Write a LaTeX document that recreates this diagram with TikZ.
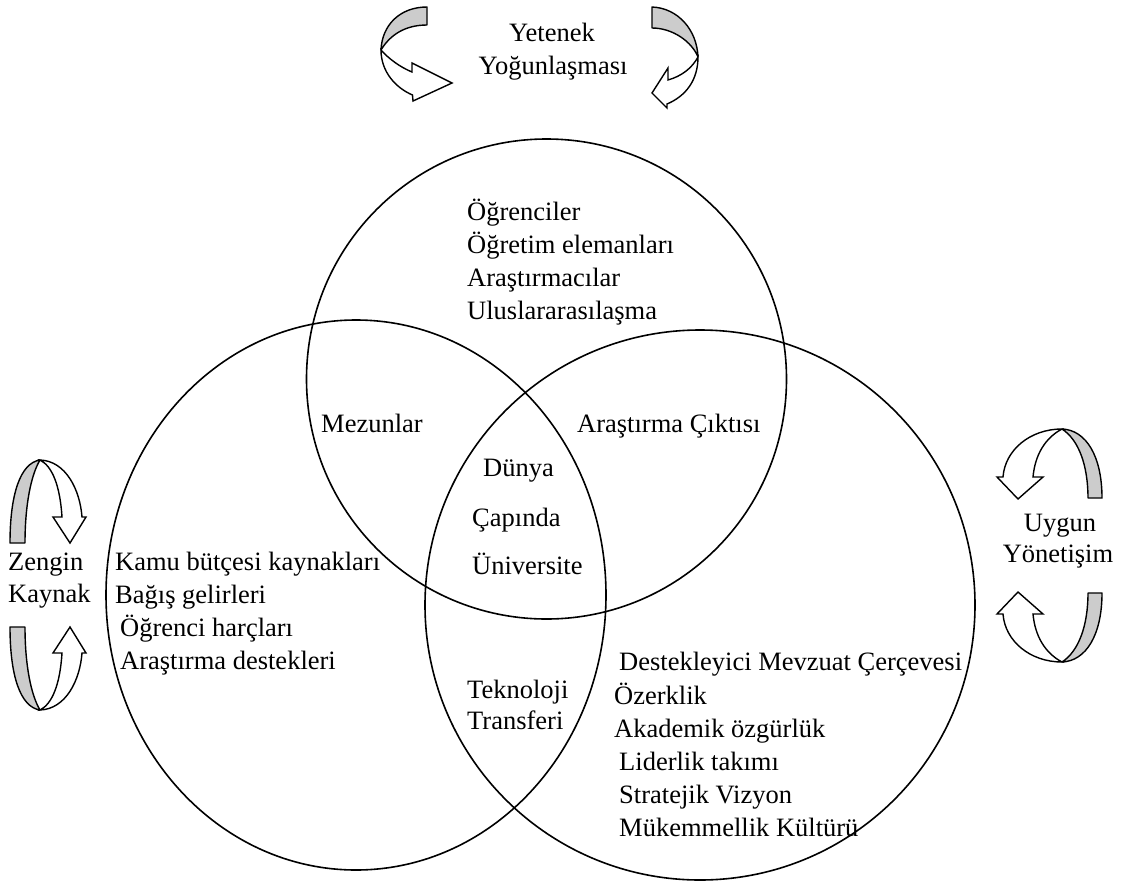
\documentclass[tikz,border=0pt]{standalone}
\usepackage{fontspec}
\setmainfont{Liberation Serif}
\definecolor{arrgrey}{RGB}{204,204,204}
\begin{document}
\begin{tikzpicture}[x=1pt,y=-1pt,
  circ/.style={draw=black, line width=1.6pt},
  lbl/.style={anchor=base west, inner sep=0pt, font=\fontsize{26.5}{33}\selectfont},
  clbl/.style={anchor=base, inner sep=0pt, font=\fontsize{26.5}{33}\selectfont},
  arrback/.style={draw=black, fill=arrgrey, line width=1.4pt, line join=round},
  arrfront/.style={draw=black, fill=white, line width=1.4pt, line join=miter}]
\useasboundingbox (0,0) rectangle (1133,884);

% Venn shapes
\draw[circ] (546.5,379) ellipse [x radius=240pt, y radius=240pt];
\draw[circ] (356,595) ellipse [x radius=250pt, y radius=275pt];
\draw[circ] (700,605) ellipse [x radius=275pt, y radius=275pt];

% top-left curved arrow
\draw[arrback] (427,7) .. controls (400,7) and (382,25) .. (381,50) .. controls (390,35) and (405,25) .. (427,25) -- cycle;
\draw[arrfront] (381,50) .. controls (381,72) and (396,88) .. (412.5,95) -- (413,101) -- (452,83) -- (412,63) -- (412,72) .. controls (400,67) and (389,59) .. (381,50) -- cycle;

% top-right curved arrow
\draw[arrback] (652,7) .. controls (678,8) and (697,30) .. (698,57) .. controls (692,42) and (673,28) .. (652,28) -- cycle;
\draw[arrfront] (698,57) .. controls (698,80) and (686,96) .. (667,104) -- (667,108) -- (652,93) -- (668,68) -- (668,80) .. controls (682,76) and (692,68) .. (698,57) -- cycle;

% left upper curved arrow
\draw[arrback] (10,543) .. controls (10,495) and (20,463) .. (40,460) .. controls (31,475) and (25,505) .. (25,543) -- cycle;
\draw[arrfront] (40,460) .. controls (66,461) and (80,490) .. (82,517) -- (86,517) -- (70,543) -- (53,517) -- (62,517) .. controls (60,485) and (52,466) .. (40,460) -- cycle;

% left lower curved arrow
\begin{scope}[shift={(0,1170)}, yscale=-1]
\draw[arrback] (10,543) .. controls (10,495) and (20,463) .. (40,460) .. controls (31,475) and (25,505) .. (25,543) -- cycle;
\draw[arrfront] (40,460) .. controls (66,461) and (80,490) .. (82,517) -- (86,517) -- (70,543) -- (53,517) -- (62,517) .. controls (60,485) and (52,466) .. (40,460) -- cycle;
\end{scope}

% right upper curved arrow
\draw[arrback] (1062,429) .. controls (1086,430) and (1102,456) .. (1102,498) -- (1088,498) .. controls (1088,466) and (1079,440) .. (1062,429) -- cycle;
\draw[arrfront] (1062,429) .. controls (1030,429) and (1005,450) .. (1003,477) -- (997,477) -- (1018,499) -- (1043,477) -- (1033,477) .. controls (1035,455) and (1045,438) .. (1062,429) -- cycle;

% right lower curved arrow
\begin{scope}[shift={(0,1091)}, yscale=-1]
\draw[arrback] (1062,429) .. controls (1086,430) and (1102,456) .. (1102,498) -- (1088,498) .. controls (1088,466) and (1079,440) .. (1062,429) -- cycle;
\draw[arrfront] (1062,429) .. controls (1030,429) and (1005,450) .. (1003,477) -- (997,477) -- (1018,499) -- (1043,477) -- (1033,477) .. controls (1035,455) and (1045,438) .. (1062,429) -- cycle;
\end{scope}

% labels
\node[clbl] (yet1) at (552,41) {Yetenek};
\node[clbl] (yet2) at (553,74) {Yoğunlaşması};

\node[lbl] (t1) at (467,220) {Öğrenciler};
\node[lbl] (t2) at (467,253) {Öğretim elemanları};
\node[lbl] (t3) at (467,286) {Araştırmacılar};
\node[lbl] (t4) at (467,319) {Uluslararasılaşma};

\node[lbl] (mez) at (321,432) {Mezunlar};
\node[lbl] (arc) at (577,432) {Araştırma Çıktısı};

\node[lbl] (d1) at (483,476) {Dünya};
\node[lbl] (d2) at (472,526) {Çapında};
\node[lbl] (d3) at (472,574) {Üniversite};

\node[lbl] (z1) at (8,570) {Zengin};
\node[lbl] (z2) at (8,602) {Kaynak};

\node[lbl] (l1) at (115,570) {Kamu bütçesi kaynakları};
\node[lbl] (l2) at (115,603) {Bağış gelirleri};
\node[lbl] (l3) at (120,636) {Öğrenci harçları};
\node[lbl] (l4) at (120,669) {Araştırma destekleri};

\node[lbl] (tk1) at (467,698) {Teknoloji};
\node[lbl] (tk2) at (467,729) {Transferi};

\node[lbl] (r1) at (619,670) {Destekleyici Mevzuat Çerçevesi};
\node[lbl] (r2) at (614,704) {Özerklik};
\node[lbl] (r3) at (614,737) {Akademik özgürlük};
\node[lbl] (r4) at (619,770) {Liderlik takımı};
\node[lbl] (r5) at (619,803) {Stratejik Vizyon};
\node[lbl] (r6) at (619,836) {Mükemmellik Kültürü};

\node[clbl] (u1) at (1060,531) {Uygun};
\node[clbl] (u2) at (1058,562) {Yönetişim};
\end{tikzpicture}
\end{document}
